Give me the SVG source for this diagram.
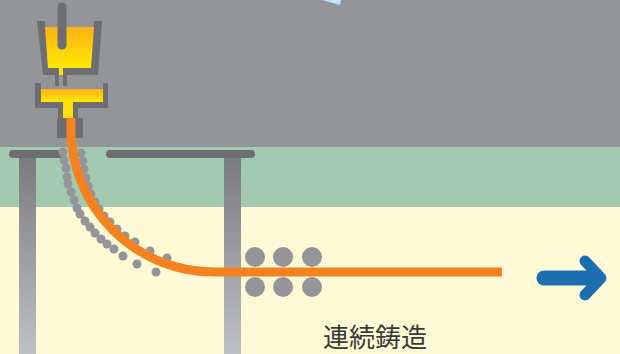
<svg xmlns="http://www.w3.org/2000/svg" width="620" height="354" viewBox="0 0 620 354">
  <defs>
    <linearGradient id="melt" x1="0" y1="0" x2="0" y2="1">
      <stop offset="0" stop-color="#fbb117"/>
      <stop offset="1" stop-color="#ffe900"/>
    </linearGradient>
    <linearGradient id="pillar" x1="0" y1="158" x2="0" y2="354" gradientUnits="userSpaceOnUse">
      <stop offset="0" stop-color="#7b7b7f"/>
      <stop offset="1" stop-color="#bfc0c4"/>
    </linearGradient>
    <style>
      .steel { fill: #6d6e71; }
      .bar { stroke: #6d6e71; stroke-width: 8; stroke-linecap: round; fill: none; }
      .dot { fill: #939598; }
      .roll { fill: #939598; }
      .strand { fill: none; stroke: #f58220; stroke-width: 9; }
      .arrow { fill: none; stroke: #1b6fb0; stroke-linecap: round; stroke-linejoin: round; }
      .label { font-family: "Noto Sans CJK JP", "Noto Sans", sans-serif; font-size: 26px; fill: #3a3a3a; }
    </style>
  </defs>

  <!-- background bands -->
  <rect x="0" y="0" width="620" height="148" fill="#939598"/>
  <rect x="0" y="147" width="620" height="60" fill="#a3c9b1"/>
  <rect x="0" y="207" width="620" height="147" fill="#fffad5"/>
  <polygon points="322,0 341,0 340,5" fill="#c5e3f6"/>

  <!-- support structure -->
  <g id="frame">
    <rect x="19" y="156" width="17" height="198" fill="url(#pillar)"/>
    <rect x="224" y="156" width="17" height="198" fill="url(#pillar)"/>
    <line class="bar" x1="13" y1="154" x2="60" y2="154"/>
    <line class="bar" x1="110" y1="154" x2="251" y2="154"/>
  </g>

  <!-- guide rolls along the bend -->
  <g id="bend-rolls">
    <circle class="dot" cx="63" cy="152" r="4.5"/>
    <circle class="dot" cx="64" cy="160" r="4.5"/>
    <circle class="dot" cx="66" cy="168" r="4.5"/>
    <circle class="dot" cx="67" cy="177" r="4.5"/>
    <circle class="dot" cx="68" cy="184" r="4.5"/>
    <circle class="dot" cx="71" cy="192" r="4.5"/>
    <circle class="dot" cx="74" cy="200" r="4.5"/>
    <circle class="dot" cx="77" cy="208" r="4.5"/>
    <circle class="dot" cx="80" cy="214" r="4.5"/>
    <circle class="dot" cx="85" cy="221" r="4.5"/>
    <circle class="dot" cx="90" cy="227" r="4.5"/>
    <circle class="dot" cx="95" cy="233" r="4.5"/>
    <circle class="dot" cx="101" cy="239" r="4.5"/>
    <circle class="dot" cx="107" cy="244" r="4.5"/>
    <circle class="dot" cx="114" cy="249" r="4.5"/>
    <circle class="dot" cx="123" cy="256" r="4.5"/>
    <circle class="dot" cx="137" cy="264" r="4.5"/>
    <circle class="dot" cx="156" cy="272" r="4.5"/>
    <circle class="dot" cx="81" cy="153" r="4.5"/>
    <circle class="dot" cx="83" cy="161" r="4.5"/>
    <circle class="dot" cx="84" cy="169" r="4.5"/>
    <circle class="dot" cx="86" cy="178" r="4.5"/>
    <circle class="dot" cx="88" cy="186" r="4.5"/>
    <circle class="dot" cx="91" cy="194" r="4.5"/>
    <circle class="dot" cx="95" cy="202" r="4.5"/>
    <circle class="dot" cx="99" cy="209" r="4.5"/>
    <circle class="dot" cx="104" cy="216" r="4.5"/>
    <circle class="dot" cx="110" cy="222" r="4.5"/>
    <circle class="dot" cx="117" cy="229" r="4.5"/>
    <circle class="dot" cx="125" cy="236" r="4.5"/>
    <circle class="dot" cx="135" cy="242" r="4.5"/>
    <circle class="dot" cx="150" cy="251" r="4.5"/>
    <circle class="dot" cx="167" cy="258" r="4.5"/>
  </g>

  <!-- straightening rolls -->
  <g id="pinch-rolls">
    <circle class="roll" cx="255" cy="257" r="10"/>
    <circle class="roll" cx="283" cy="257" r="10"/>
    <circle class="roll" cx="312" cy="257" r="10"/>
    <circle class="roll" cx="255" cy="287" r="10"/>
    <circle class="roll" cx="283" cy="287" r="10"/>
    <circle class="roll" cx="312" cy="287" r="10"/>
  </g>

  <!-- cast strand -->
  <g id="connectors">
    <path class="strand" d="M71,118 V129 A143,143 0 0 0 214,272 H502"/>
  </g>

  <!-- ladle with stopper -->
  <g id="ladle">
    <polygon class="steel" points="37,21 45,21 48,68 90,68 94,21 102,21 98,75 67,75 67,86 63,86 63,75 59,75 59,86 55,86 55,75 43,75"/>
    <polygon points="45,27 94,27 91,68 48,68" fill="url(#melt)"/>
    <rect x="59" y="68" width="4" height="7" fill="#ffe600"/>
    <line x1="62" y1="7" x2="62" y2="45" stroke="#6d6e71" stroke-width="9" stroke-linecap="round"/>
  </g>

  <!-- tundish -->
  <g id="tundish">
    <polygon class="steel" points="35,83 41,83 41,102 103,102 103,83 108,83 108,108 78,108 78,118 58,118 58,108 35,108"/>
    <rect x="41" y="89" width="62" height="13" fill="url(#melt)"/>
    <rect x="63" y="102" width="10" height="18" fill="#ffe000"/>
    <rect class="steel" x="57" y="118" width="10" height="20"/>
    <rect class="steel" x="75" y="118" width="8" height="20"/>
    <rect x="66.5" y="118" width="9" height="20" fill="#f58220"/>
  </g>

  <!-- output arrow -->
  <g id="arrow">
    <line class="arrow" x1="544" y1="278" x2="596" y2="278" stroke-width="15"/>
    <polyline class="arrow" points="585,261 601,278 585,295" stroke-width="11"/>
  </g>

  <g id="label">
    <text class="label" x="323" y="347">連続鋳造</text>
  </g>
</svg>
